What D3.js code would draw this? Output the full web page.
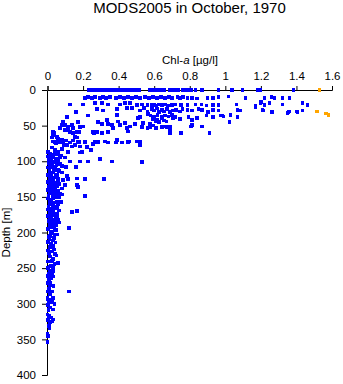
<!DOCTYPE html>
<html><head><meta charset="utf-8">
<script src="https://cdn.jsdelivr.net/npm/d3@7"></script>
<style>
html,body{margin:0;padding:0;background:#fff;}
svg{display:block;font-family:"Liberation Sans",Arial,sans-serif;}
</style></head>
<body>
<script>
// ---- data (Chl-a [ug/l], depth [m]) ----
const titleText = "MODS2005 in October, 1970";
const xTickValues = [0,0.2,0.4,0.6,0.8,1,1.2,1.4,1.6];
const xTickLabels = ["0","0.2","0.4","0.6","0.8","1","1.2","1.4","1.6"];
const yTickValues = [0,50,100,150,200,250,300,350,400];

const blueSurface = [
[0.234,0],[0.245,0],[0.256,0],[0.268,0],[0.279,0],[0.29,0],[0.301,0],[0.313,0],[0.324,0],[0.335,0],[0.346,0],[0.358,0],[0.369,0],[0.38,0],[0.392,0],[0.403,0],[0.414,0],[0.425,0],[0.437,0],[0.448,0],[0.459,0],[0.47,0],[0.487,0],[0.504,0],[0.515,0],[0.577,0],[0.589,0],[0.6,0],[0.611,0],[0.623,0],[0.634,0],[0.645,0],[0.656,0],[0.69,0],[0.701,0],[0.713,0],[0.735,0],[0.763,0],[0.775,0],[0.786,0],[0.797,0],[0.808,0],[0.831,0],[0.87,0],[0.961,0],[1.039,0],[1.096,0],[1.18,0],[1.197,0],[1.383,0],
[0.211,11],[0.228,10],[0.251,11],[0.268,10],[0.296,11],[0.313,10],[0.33,11],[0.352,10],[0.386,11],[0.408,10],[0.431,11],[0.454,10],[0.476,11],[0.499,10],[0.521,11],[0.549,10],[0.572,11],[0.594,10],[0.617,11],[0.639,10],[0.662,11],[0.684,10],[0.701,11],[0.73,10],[0.746,11],[0.763,10],[0.786,11],[0.814,11],[0.842,12],[0.899,11],[0.932,11],[0.961,10],[1.017,9],[1.113,11],[1.22,11],[1.259,10],[1.276,11],[1.321,11],[1.361,11]
];
const blue20m = [
[0.127,20],[0.2,20],[0.268,18],[0.307,18],[0.341,20],[0.408,20],[0.437,18],[0.465,18],[0.504,21],[0.532,20],[0.561,21],[0.589,21],[0.6,20],[0.611,22],[0.623,20],[0.645,21],[0.662,20],[0.679,22],[0.701,21],[0.718,20],[0.752,21],[0.786,21],[0.831,20],[0.865,20],[0.893,22],[0.932,21],[0.961,21],[1.062,20],[1.169,22],[1.197,18],[1.2,17],[1.22,21],[1.248,18],[1.321,20],[1.434,18],[1.462,21],
[0.161,31],[0.279,27],[0.313,29],[0.392,27],[0.448,25],[0.476,25],[0.521,29],[0.544,25],[0.561,31],[0.566,34],[0.589,27],[0.6,29],[0.617,26],[0.628,31],[0.645,28],[0.656,30],[0.673,27],[0.69,31],[0.707,29],[0.724,28],[0.746,30],[0.758,27],[0.786,28],[0.814,29],[0.848,27],[0.87,28],[0.904,31],[0.932,28],[0.961,29],[1.068,28],[1.085,29],[1.169,24],[1.21,28],[1.214,29],[1.26,31],[1.265,31],[1.35,32],[1.355,31],[1.36,30],[1.4,30],[1.406,31],[1.434,29]
];
const blue50m = [
[0.392,35],[0.11,38],[0.228,36],[0.521,38],[0.51,39],[0.335,42],[0.397,44],[0.285,45],[0.58,36],[0.6,37],[0.62,35],[0.64,38],[0.66,36],[0.68,37],[0.7,35],[0.72,38],[0.594,41],[0.606,44],[0.617,42],[0.628,45],[0.645,40],[0.656,43],[0.668,44],[0.707,39],[0.746,41],[0.792,38],[0.814,42],[0.842,39],[0.893,36],[0.932,38],[0.972,36],[0.983,36],[0.989,37],[1.023,45],[1.028,35],[1.068,38],
[0.087,45],[0.099,49],[0.115,52],[0.138,49],[0.144,53],[0.183,52],[0.2,51],[0.307,48],[0.341,48],[0.363,49],[0.369,53],[0.408,49],[0.437,46],[0.448,53],[0.465,51],[0.493,48],[0.532,52],[0.538,46],[0.561,53],[0.577,48],[0.082,49],[0.172,45],[0.07,53],[0.651,51],[0.69,51],[0.808,51],[0.87,51],[0.69,55],[0.594,50],[0.611,53],[0.645,52],[0.668,52],[0.814,49],[0.577,52],
[0.031,59],[0.166,59],[0.256,59],[0.279,59],[0.341,59],[0.454,58],[0.099,56],[0.115,56],[0.127,59],[0.144,60],[0.177,59],[0.031,63],[0.037,60],[0.262,60],[0.307,60],[0.752,60],[0.91,60],[0.69,60]
];
const blue75m = [
[0.054,66],[0.059,69],[0.155,66],[0.172,72],[0.211,73],[0.025,67],[0.166,67],[0.082,70],[0.042,73],[0.07,73],[0.087,74],[0.177,73],[0.211,74],[0.256,76],[0.285,73],[0.341,74],[0.386,74],[0.42,74],[0.454,73],[0.504,72],[0.521,73],[0.059,74],[0.11,77],[0.138,79],[0.155,77],[0.183,79],[0.223,80],[0.279,72],[0.521,77],[0.031,72],[0.048,75],[0.065,70],[0.093,77],[0.104,71],[0.127,74],[0.144,71],[0.324,72],[0.268,73],[0.392,70],[0.459,72],
[0.245,84],[0.025,81],[0.042,84],[0.059,87],[0.082,83],[0.115,86],[0.183,88],[0.014,90],[0.031,91],[0.054,90],[0.07,94],[0.008,98],[0.031,100],[0.059,98],[0.099,95],[0.127,100],[0.183,100],[0.228,100],[0.296,97],[0.363,100],[0.532,101],[0.194,87],[0.115,88],[0.003,87],[0.003,93],[0.02,95],[0.045,96],[0.075,92],[0.04,88]
];
const blue150m = [
[0.014,105],[0.031,102],[0.042,108],[0.082,107],[0.059,112],[0.161,108],[0.104,108],[0.014,116],[0.031,116],[0.054,119],[0.082,116],[0.014,124],[0.031,125],[0.059,124],[0.087,126],[0.115,125],[0.211,125],[0.318,125],[0.11,121],[0.166,124],[0.003,109],[0.003,119],[0.003,129],[0.025,106],[0.04,110],[0.02,118],[0.045,121],[0.03,127],[0.07,104],[0.048,113],
[0.014,131],[0.031,133],[0.054,135],[0.172,136],[0.014,139],[0.042,140],[0.082,138],[0.099,133],[0.166,133],[0.014,145],[0.031,147],[0.048,145],[0.082,147],[0.014,154],[0.031,152],[0.054,157],[0.076,157],[0.211,149],[0.003,140],[0.003,152],[0.022,135],[0.04,137],[0.025,143],[0.06,142],[0.02,156],[0.045,151],[0.065,150],[0.01,160],[0.035,162],
[0.166,170],[0.014,161],[0.031,164],[0.054,164],[0.014,171],[0.031,173],[0.054,173],[0.014,180],[0.031,182],[0.054,178],[0.138,171],[0.003,168],[0.003,177],[0.042,185],[0.014,188],[0.025,168],[0.04,176],[0.02,185],[0.035,190],[0.065,186],[0.003,195],[0.048,197]
];
const blueColumn = [
[0.01,92],[0.035,94],[0.05,97],[0.02,99],[0.045,101],[0.008,103],[0.06,103],[0.022,108],[0.05,106],[0.01,112],[0.035,113],[0.065,114],[0.02,121],[0.04,123],[0.06,127],[0.01,128],[0.045,130],[0.025,132],[0.065,132],[0.008,136],[0.03,139],[0.055,141],[0.015,143],[0.04,144],[0.07,145],[0.005,148],[0.028,150],[0.05,148],[0.012,158],[0.04,158],[0.06,160],[0.025,160],[0.005,164],[0.045,166],[0.02,167],[0.065,169],[0.035,170],[0.01,174],[0.045,180],[0.022,178],[0.005,184],[0.06,182],[0.03,187],[0.05,190],[0.01,192],[0.04,194],[0.02,201],[0.055,203],[0.005,206],[0.03,211],[0.045,214],[0.015,220],[0.04,224],[0.008,229],[0.05,232],[0.025,240],[0.04,244],[0.012,248],[0.035,254],[0.008,258],[0.03,262],[0.015,270],[0.035,275],[0.005,279],[0.025,283],[0.04,300],[0.03,308],[0.005,309],[0.025,325],[0.012,335],[0.03,322]
];
const blueDeep = [
[0.014,192],[0.031,192],[0.121,194],[0.0,196],[0.025,199],[0.048,196],[0.014,205],[0.037,208],[0.003,213],[0.02,216],[0.031,219],[0.003,225],[0.025,227],[0.042,230],[0.014,234],[0.031,237],[0.003,241],[0.059,243],[0.02,246],[0.031,250],[0.003,250],[0.014,254],[0.025,257],[0.003,261],[0.02,264],[0.008,267],[0.0,271],[0.014,274],[0.008,279],[0.121,283],[0.003,283],[0.014,286],[0.0,291],[0.003,294],[0.025,295],[0.008,298],[0.02,298],[0.031,292],[0.003,302],[0.014,305],[0.0,315],[0.008,317],[0.02,319],[0.003,323],[0.014,326],[0.008,331],[0.0,342],[0.003,345],[0.0,354],[0.04,203],[0.01,210],[0.035,222]
];
const orangeObs = [[1.53,0],[1.515,30],[1.565,33],[1.58,35]];

const blueObs = [].concat(blueSurface, blue20m, blue50m, blue75m, blue150m, blueColumn, blueDeep);

// ---- chart ----
const W = 343, H = 384;
const svg = d3.select("body").append("svg").attr("width", W).attr("height", H);

const x = d3.scaleLinear().domain([0, 1.6]).range([47.5, 332]);
const y = d3.scaleLinear().domain([0, 400]).range([90, 375]);

svg.append("text").attr("x", 189.5).attr("y", 13).attr("text-anchor", "middle")
  .attr("font-size", 15).attr("fill", "#000").text(titleText);

const xl = svg.append("text").attr("x", 190).attr("y", 64).attr("text-anchor", "middle")
  .attr("font-size", 11.5).attr("fill", "#000");
xl.append("tspan").text("Chl-");
xl.append("tspan").attr("font-style", "italic").text("a");
xl.append("tspan").text(" [\u00B5g/l]");

svg.append("text").attr("transform", "translate(10," + ((90 + 375) / 2) + ") rotate(-90)")
  .attr("text-anchor", "middle").attr("font-size", 11.5).attr("fill", "#000").text("Depth [m]");

const xAxis = svg.append("g").attr("transform", "translate(0,90)")
  .call(d3.axisTop(x).tickValues(xTickValues).tickSize(4).tickPadding(6)
    .tickFormat((d, i) => xTickLabels[i]));
const yAxis = svg.append("g").attr("transform", "translate(47,0)")
  .call(d3.axisLeft(y).tickValues(yTickValues).tickSize(5).tickPadding(6));

[xAxis, yAxis].forEach(g => {
  g.selectAll("text").attr("font-size", 11.5).attr("font-family", '"Liberation Sans",Arial,sans-serif').attr("fill", "#000");
  g.select(".domain").attr("stroke", "#000");
  g.selectAll(".tick line").attr("stroke", "#000");
});

const s = 3.5;
svg.append("g").attr("shape-rendering", "crispEdges").selectAll("rect").data(blueObs).join("rect")
  .attr("x", d => x(d[0]) - s / 2).attr("y", d => y(d[1]) - s / 2)
  .attr("width", s).attr("height", s).attr("fill", "#0000ff");
svg.append("g").attr("shape-rendering", "crispEdges").selectAll("rect").data(orangeObs).join("rect")
  .attr("x", d => x(d[0]) - s / 2).attr("y", d => y(d[1]) - s / 2)
  .attr("width", s).attr("height", s).attr("fill", "#ffa500");
</script>
</body></html>
